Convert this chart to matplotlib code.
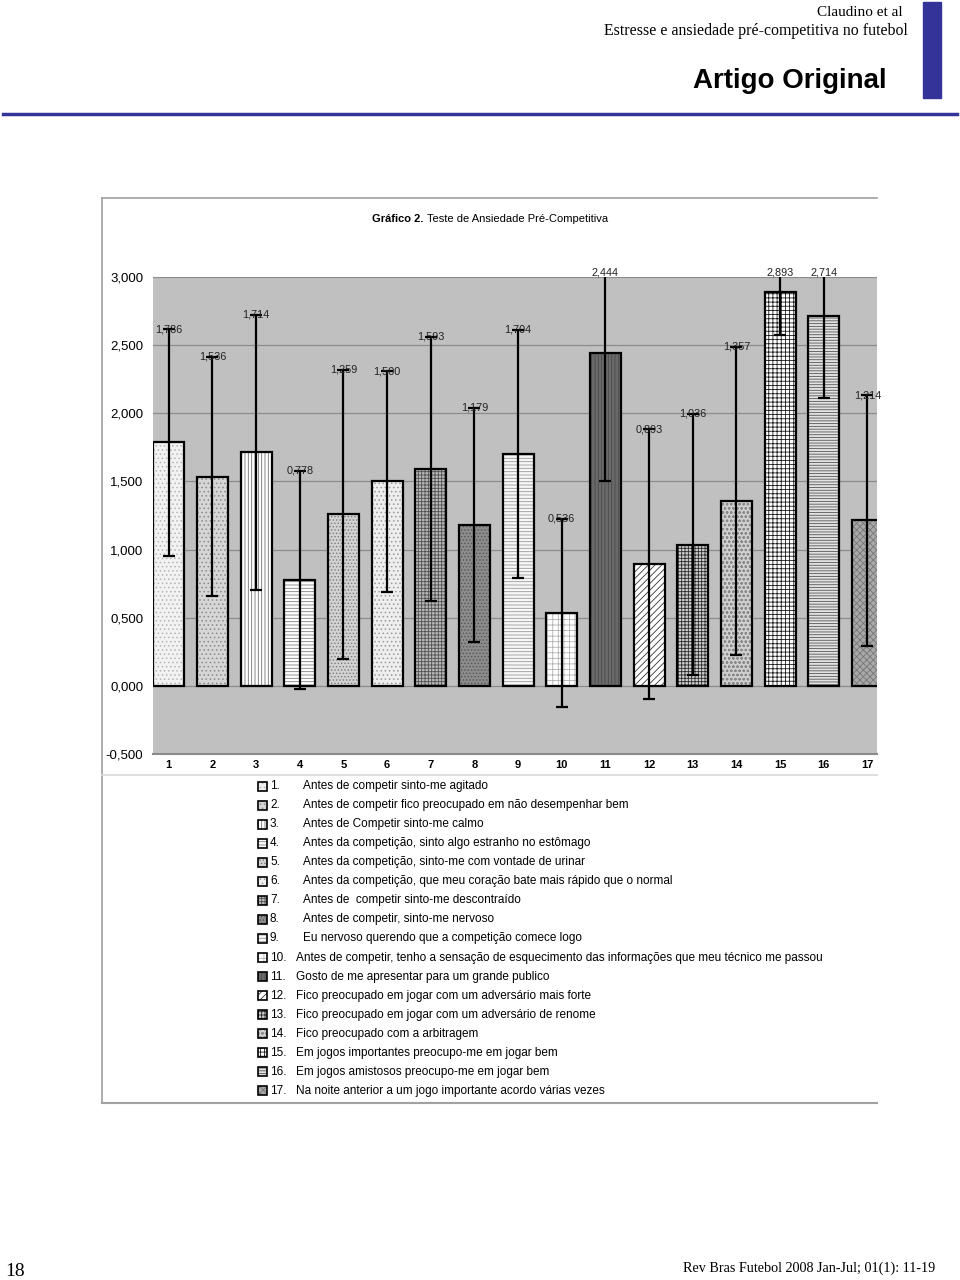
import numpy as np
import matplotlib
matplotlib.use("Agg")
import matplotlib.pyplot as plt
import matplotlib.patches as mpatches
from matplotlib.lines import Line2D

plt.rcParams['font.family'] = ['Liberation Sans', 'DejaVu Sans']
plt.rcParams['hatch.linewidth'] = 0.6

# values (mean and standard deviation per item)
items = list(range(1, 18))
means = [1.786, 1.536, 1.714, 0.778, 1.259, 1.500, 1.593, 1.179, 1.704,
         0.536, 2.444, 0.893, 1.036, 1.357, 2.893, 2.714, 1.214]
sds = [0.83, 0.88, 1.01, 0.80, 1.06, 0.81, 0.97, 0.86, 0.91,
       0.69, 0.94, 0.99, 0.96, 1.13, 0.32, 0.60, 0.92]
yticks = [-0.5, 0.0, 0.5, 1.0, 1.5, 2.0, 2.5, 3.0]

descriptions = [
    "Antes de competir sinto-me agitado",
    "Antes de competir fico preocupado em não desempenhar bem",
    "Antes de Competir sinto-me calmo",
    "Antes da competição, sinto algo estranho no estômago",
    "Antes da competição, sinto-me com vontade de urinar",
    "Antes da competição, que meu coração bate mais rápido que o normal",
    "Antes de  competir sinto-me descontraído",
    "Antes de competir, sinto-me nervoso",
    "Eu nervoso querendo que a competição comece logo",
    "Antes de competir, tenho a sensação de esquecimento das informações que meu técnico me passou",
    "Gosto de me apresentar para um grande publico",
    "Fico preocupado em jogar com um adversário mais forte",
    "Fico preocupado em jogar com um adversário de renome",
    "Fico preocupado com a arbitragem",
    "Em jogos importantes preocupo-me em jogar bem",
    "Em jogos amistosos preocupo-me em jogar bem",
    "Na noite anterior a um jogo importante acordo várias vezes",
]

# fill style per bar: (face colour, hatch, hatch colour)
styles = [
    ('#f2f2f2', '....', '#b5b5b5'),
    ('#d6d6d6', '....', '#8a8a8a'),
    ('#ffffff', '|||||', '#707070'),
    ('#ffffff', '-----', '#808080'),
    ('#d2d2d2', '.....', '#7a7a7a'),
    ('#eeeeee', '....', '#9a9a9a'),
    ('#b8b8b8', '+++++', '#505050'),
    ('#8c8c8c', '.....', '#555555'),
    ('#f6f6f6', '-----', '#9a9a9a'),
    ('#ffffff', '+++', '#b0b0b0'),
    ('#6a6a6a', '|||||', '#4a4a4a'),
    ('#ffffff', '/////', '#333333'),
    ('#cfcfcf', '+++++', '#2a2a2a'),
    ('#d0d0d0', 'oooo', '#8a8a8a'),
    ('#ffffff', '++++', '#1a1a1a'),
    ('#e2e2e2', '------', '#555555'),
    ('#a8a8a8', 'xxxxx', '#777777'),
]

W, H = 960, 1280


def fx(x):
    return x / W


def fy(y):
    return 1 - y / H


fig = plt.figure(figsize=(9.6, 12.8), dpi=100)

# page header
fig.text(fx(903), fy(13), "Claudino et al", ha='right', va='center',
         family='Liberation Serif', fontsize=11)
fig.text(fx(908), fy(31), "Estresse e ansiedade pré-competitiva no futebol",
         ha='right', va='center', family='Liberation Serif', fontsize=11.4)
fig.text(fx(887), fy(81), "Artigo Original", ha='right', va='center',
         fontsize=20, fontweight='bold')
fig.add_artist(mpatches.Rectangle((fx(923), fy(98)), fx(18), 96 / H,
                                  transform=fig.transFigure, color='#333399'))
fig.add_artist(Line2D([fx(3), fx(957)], [fy(114), fy(114)],
                      transform=fig.transFigure, color='#333399', lw=2.5))

# chart frame
frame_col = '#a0a0a0'
fig.add_artist(Line2D([fx(102), fx(102)], [fy(198), fy(1103)],
                      transform=fig.transFigure, color=frame_col, lw=1.2))
fig.add_artist(Line2D([fx(102), fx(877)], [fy(198), fy(198)],
                      transform=fig.transFigure, color=frame_col, lw=1.2))
fig.add_artist(Line2D([fx(102), fx(877)], [fy(1103), fy(1103)],
                      transform=fig.transFigure, color=frame_col, lw=1.5))
fig.add_artist(Line2D([fx(102), fx(877)], [fy(775), fy(775)],
                      transform=fig.transFigure, color='#d8d8d8', lw=1.2))

# chart title
fig.text(fx(423), fy(219), "Gráfico 2.", ha='right', va='center',
         fontsize=8, fontweight='bold')
fig.text(fx(427), fy(219), "Teste de Ansiedade Pré-Competitiva", ha='left',
         va='center', fontsize=8)

ax = fig.add_axes([fx(153), fy(754), (877 - 153) / W, (754 - 277) / H])
ax.set_facecolor('#c0c0c0')
ax.set_xlim(0.64, 17.22)
ax.set_ylim(-0.5, 3.0)
for s in ax.spines.values():
    s.set_visible(False)
ax.spines['bottom'].set_visible(True)
ax.spines['bottom'].set_color('#8a8a8a')
ax.spines['bottom'].set_linewidth(1.5)
ax.set_yticks(yticks)
ax.set_yticklabels([f"{v:.3f}".replace('.', ',') for v in yticks], fontsize=9.5)
ax.set_xticks(items)
ax.set_xticklabels([str(i) for i in items], fontsize=8, fontweight='bold')
ax.tick_params(length=0)
ax.tick_params(axis='y', pad=7)
ax.tick_params(axis='x', pad=4)
ax.yaxis.grid(True, color='#8c8c8c', lw=0.9)
ax.set_axisbelow(True)

bw = 0.71
for i, (m, st) in enumerate(zip(means, styles)):
    fc, hatch, hc = st
    ax.bar(items[i], m, width=bw, color=fc, edgecolor=hc, hatch=hatch,
           linewidth=0, zorder=2)
    ax.bar(items[i], m, width=bw, fill=False, edgecolor='black',
           linewidth=1.6, zorder=3)

ax.errorbar(items, means, yerr=sds, fmt='none', ecolor='black', elinewidth=1.6,
            capsize=4, capthick=1.6, zorder=4)

for i, (m, s) in enumerate(zip(means, sds)):
    top = min(m + s, 3.03)
    ax.text(items[i], top, f"{m:.3f}".replace('.', ','), ha='center',
            va='center', fontsize=7.8, color='#222222', zorder=5, clip_on=False)

# legend below the chart
row0, step = 786, 19.06
for i, desc in enumerate(descriptions):
    yc = row0 + i * step
    fc, hatch, hc = styles[i]
    fig.add_artist(mpatches.Rectangle((fx(258), fy(yc + 4.5)), fx(9), 9 / H,
                                      transform=fig.transFigure, facecolor=fc,
                                      edgecolor=hc, hatch=hatch, linewidth=0))
    fig.add_artist(mpatches.Rectangle((fx(258), fy(yc + 4.5)), fx(9), 9 / H,
                                      transform=fig.transFigure, fill=False,
                                      edgecolor='black', linewidth=1.2))
    fig.text(fx(270), fy(yc), f"{i + 1}.", ha='left', va='center', fontsize=8.5)
    dx = 303 if i < 9 else 296
    fig.text(fx(dx), fy(yc), desc, ha='left', va='center', fontsize=8.5)

# page footer
fig.text(fx(5), fy(1272), "18", ha='left', va='center',
         family='Liberation Serif', fontsize=14)
fig.text(fx(935), fy(1268), "Rev Bras Futebol 2008 Jan-Jul; 01(1): 11-19",
         ha='right', va='center', family='Liberation Serif', fontsize=10.2)

fig.savefig("out.png", dpi=100, facecolor='white')
